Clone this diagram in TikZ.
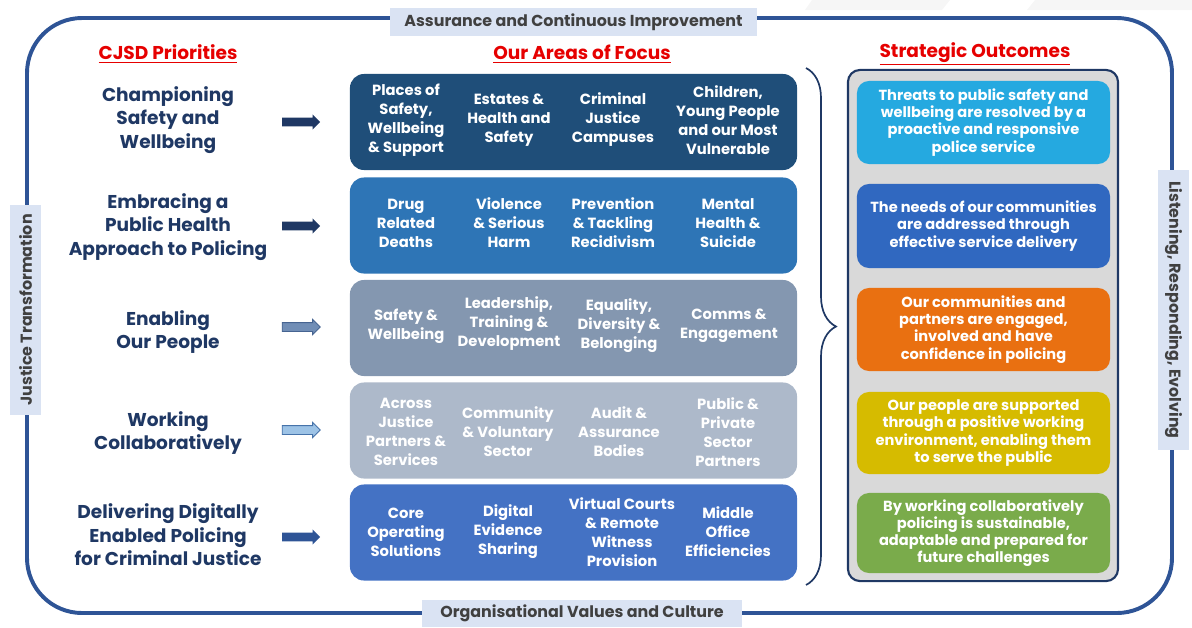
\documentclass[tikz,border=0pt]{standalone}
\usepackage{fontspec}
\setmainfont{Poppins}
\usepackage{tikz}
\usetikzlibrary{shapes.arrows, decorations.pathreplacing, positioning}

\definecolor{frameblue}{RGB}{46,84,150}
\definecolor{labelfill}{RGB}{218,227,243}
\definecolor{labeltext}{RGB}{64,64,64}
\definecolor{headred}{RGB}{230,0,0}
\definecolor{prioblue}{RGB}{31,56,100}
\definecolor{rowA}{RGB}{31,78,121}
\definecolor{rowB}{RGB}{46,117,182}
\definecolor{rowC}{RGB}{132,151,176}
\definecolor{rowD}{RGB}{173,185,202}
\definecolor{rowE}{RGB}{68,114,196}
\definecolor{panelgray}{RGB}{217,217,217}
\definecolor{outA}{RGB}{37,169,224}
\definecolor{outB}{RGB}{48,104,192}
\definecolor{outC}{RGB}{233,112,17}
\definecolor{outD}{RGB}{214,187,0}
\definecolor{outE}{RGB}{122,171,75}

\begin{document}
\begin{tikzpicture}[
    x=0.025cm, y=-0.025cm,
    frameline/.style={line width=2.8pt, draw=frameblue, rounded corners=1.375cm},
    sidelabel/.style={fill=labelfill, text=labeltext, inner sep=0pt, font=\fontsize{11.3}{13}\selectfont\bfseries},
    heading/.style={text=headred, font=\fontsize{13.2}{15}\selectfont\bfseries},
    priority/.style={text=prioblue, align=center, font=\fontsize{13.2}{16.8}\selectfont\bfseries},
    prioarrow/.style={single arrow, minimum height=0.95cm, minimum width=0.36cm, inner xsep=0pt, inner ysep=0.1cm, single arrow head extend=0.08cm, line width=0.6pt},
    focusrow/.style={rounded corners=0.35cm, minimum width=11.175cm, minimum height=2.4cm, inner sep=0pt},
    focus/.style={text=white, align=center, font=\fontsize{10.5}{13.5}\selectfont\bfseries},
    outcome/.style={rounded corners=0.3cm, minimum width=6.325cm, text=white, align=center, inner sep=0pt, font=\fontsize{10.4}{12.2}\selectfont\bfseries}
  ]

  \useasboundingbox (0,0) rectangle (1192,627);

  % faint page stripes
  \fill[gray!7] (812,0) -- (950,0) -- (942,10) -- (805,10) -- cycle;
  \fill[gray!7] (1035,0) -- (1192,0) -- (1192,10) -- (1027,10) -- cycle;

  % Outer frame and its labels
  \draw[frameline] (27,18) rectangle (1172,613);
  \node[sidelabel, minimum width=9.175cm, minimum height=0.7cm] (assure) at (573.5,22) {Assurance and Continuous Improvement};
  \node[sidelabel, minimum width=8cm, minimum height=0.675cm] (values) at (582,613.5) {Organisational Values and Culture};
  \node[sidelabel, rotate=90, minimum width=5.25cm, minimum height=0.775cm] (justice) at (25.5,310) {Justice Transformation};
  \node[sidelabel, rotate=-90, minimum width=7cm, minimum height=0.775cm] (listen) at (1173.5,310) {Listening, Responding, Evolving};

  % Headings
  \node[heading] (hprio) at (168,54) {\underline{CJSD Priorities}};
  \node[heading] (hfocus) at (582,54) {\underline{Our Areas of Focus}};
  \node[heading] (hout) at (975,54) {\underline{Strategic Outcomes}};

  % Priorities
  \node[priority] (p1) at (168,120) {Championing\\Safety and\\Wellbeing};
  \node[priority] (p2) at (168,227) {Embracing a\\Public Health\\Approach to Policing};
  \node[priority] (p3) at (168,332) {Enabling\\Our People};
  \node[priority] (p4) at (168,433) {Working\\Collaboratively};
  \node[priority] (p5) at (168,535) {Delivering Digitally\\Enabled Policing\\for Criminal Justice};

  % Arrows
  \node[prioarrow, fill=prioblue] (a1) at (299,122) {};
  \node[prioarrow, fill=prioblue] (a2) at (299,226) {};
  \node[prioarrow, fill={rgb,255:red,113;green,142;blue,182}, draw={rgb,255:red,70;green,100;blue,145}] (a3) at (299,327) {};
  \node[prioarrow, fill={rgb,255:red,157;green,195;blue,230}, draw={rgb,255:red,70;green,115;blue,170}] (a4) at (299,430) {};
  \node[prioarrow, fill=frameblue] (a5) at (299,537) {};

  % Areas of focus
  \node[focusrow, fill=rowA] (row1) at (573.5,122) {};
  \node[focusrow, fill=rowB] (row2) at (573.5,225.5) {};
  \node[focusrow, fill=rowC] (row3) at (573.5,328) {};
  \node[focusrow, fill=rowD] (row4) at (573.5,430.5) {};
  \node[focusrow, fill=rowE] (row5) at (573.5,532.5) {};

  \node[focus] (f11) at (406,120) {Places of\\Safety,\\Wellbeing\\\& Support};
  \node[focus] (f12) at (509,120) {Estates \&\\Health and\\Safety};
  \node[focus] (f13) at (613,120) {Criminal\\Justice\\Campuses};
  \node[focus] (f14) at (728,120) {Children,\\Young People\\and our Most\\Vulnerable};

  \node[focus] (f21) at (406,223) {Drug\\Related\\Deaths};
  \node[focus] (f22) at (509,223) {Violence\\\& Serious\\Harm};
  \node[focus] (f23) at (613,223) {Prevention\\\& Tackling\\Recidivism};
  \node[focus] (f24) at (728,223) {Mental\\Health \&\\Suicide};

  \node[focus] (f31) at (406,326) {Safety \&\\Wellbeing};
  \node[focus] (f32) at (509,324) {Leadership,\\Training \&\\Development};
  \node[focus] (f33) at (619,326) {Equality,\\Diversity \&\\Belonging};
  \node[focus] (f34) at (729,326) {Comms \&\\Engagement};

  \node[focus] (f41) at (406,432) {Across\\Justice\\Partners \&\\Services};
  \node[focus] (f42) at (508,432) {Community\\\& Voluntary\\Sector};
  \node[focus] (f43) at (619,432) {Audit \&\\Assurance\\Bodies};
  \node[focus] (f44) at (728,432) {Public \&\\Private\\Sector\\Partners};

  \node[focus] (f51) at (406,532) {Core\\Operating\\Solutions};
  \node[focus] (f52) at (508,532) {Digital\\Evidence\\Sharing};
  \node[focus] (f53) at (622,532) {Virtual Courts\\\& Remote\\Witness\\Provision};
  \node[focus] (f54) at (728,532) {Middle\\Office\\Efficiencies};

  % Brace
  \coordinate (bracetop) at (806,68);
  \coordinate (bracebot) at (806,585);
  \draw[prioblue, line width=1.2pt, decorate, decoration={brace, amplitude=0.75cm}] (bracetop) -- (bracebot);

  % Strategic outcomes
  \node[draw=prioblue, line width=1.5pt, fill=panelgray, rounded corners=0.3cm, minimum width=6.75cm, minimum height=12.775cm] (panel) at (983,325.5) {};
  \node[outcome, fill=outA, minimum height=2.075cm] (o1) at (983.5,122.5) {Threats to public safety and\\wellbeing are resolved by a\\proactive and responsive\\police service};
  \node[outcome, fill=outB, minimum height=2.1cm] (o2) at (983.5,226) {The needs of our communities\\are addressed through\\effective service delivery};
  \node[outcome, fill=outC, minimum height=2.075cm] (o3) at (983.5,329.5) {Our communities and\\partners are engaged,\\involved and have\\confidence in policing};
  \node[outcome, fill=outD, minimum height=2.05cm] (o4) at (983.5,433) {Our people are supported\\through a positive working\\environment, enabling them\\to serve the public};
  \node[outcome, fill=outE, minimum height=2cm] (o5) at (983.5,533) {By working collaboratively\\policing is sustainable,\\adaptable and prepared for\\future challenges};

\end{tikzpicture}
\end{document}
